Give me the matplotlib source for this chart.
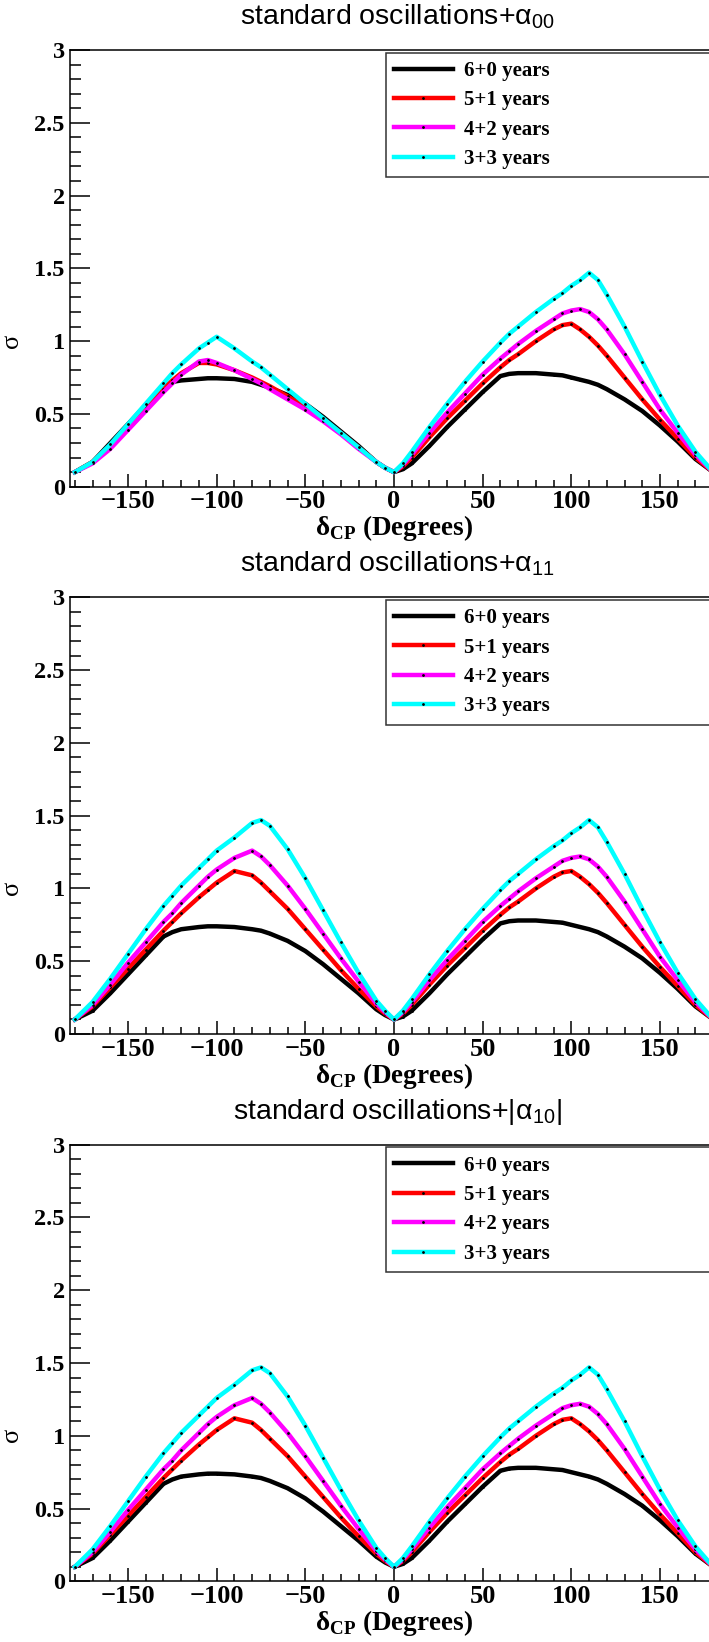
import numpy as np
import matplotlib.pyplot as plt
from matplotlib.ticker import MultipleLocator

plt.rcParams['mathtext.fontset'] = 'custom'
plt.rcParams['mathtext.rm'] = 'Liberation Sans'
plt.rcParams['mathtext.bf'] = 'Liberation Serif:bold'

# delta_CP grid (degrees)
delta = [-180, -170, -160, -150, -140, -130, -125, -120, -110, -105,
         -100, -90, -80, -75, -70, -60, -50, -40, -30, -20,
         -10, -5, 0, 5, 10, 20, 30, 40, 50, 60,
         65, 70, 80, 90, 95, 100, 105, 110, 115, 120,
         130, 140, 150, 160, 170, 180]

# positive delta half (0 .. 180), same in all three panels
black_R = [0.10, 0.12, 0.16, 0.28, 0.41, 0.53, 0.65, 0.76, 0.775, 0.78, 0.78, 0.77,
           0.765, 0.75, 0.735, 0.72, 0.70, 0.67, 0.60, 0.52, 0.42, 0.31, 0.19, 0.10]
red_R = [0.10, 0.14, 0.20, 0.34, 0.47, 0.59, 0.71, 0.82, 0.87, 0.91, 1.00, 1.08,
         1.11, 1.12, 1.08, 1.03, 0.97, 0.90, 0.75, 0.60, 0.46, 0.33, 0.20, 0.10]
magenta_R = [0.10, 0.15, 0.22, 0.37, 0.51, 0.64, 0.77, 0.88, 0.93, 0.98, 1.07, 1.15,
             1.19, 1.21, 1.22, 1.20, 1.15, 1.08, 0.91, 0.72, 0.53, 0.37, 0.22, 0.10]
cyan_R = [0.10, 0.16, 0.24, 0.41, 0.57, 0.72, 0.86, 0.99, 1.05, 1.10, 1.20, 1.29,
          1.33, 1.38, 1.42, 1.47, 1.42, 1.32, 1.10, 0.86, 0.63, 0.42, 0.24, 0.10]

# negative delta half (-180 .. -5), panel with alpha_00
black_L1 = [0.10, 0.17, 0.30, 0.43, 0.56, 0.68, 0.72, 0.73, 0.74, 0.745, 0.745,
            0.74, 0.72, 0.70, 0.68, 0.63, 0.57, 0.48, 0.38, 0.28, 0.17, 0.13]
red_L1 = [0.10, 0.17, 0.28, 0.42, 0.55, 0.67, 0.73, 0.78, 0.85, 0.85, 0.84,
          0.80, 0.75, 0.72, 0.69, 0.62, 0.55, 0.46, 0.37, 0.27, 0.17, 0.13]
magenta_L1 = [0.10, 0.16, 0.26, 0.39, 0.52, 0.65, 0.71, 0.77, 0.86, 0.87, 0.85,
              0.80, 0.74, 0.71, 0.67, 0.60, 0.53, 0.45, 0.36, 0.26, 0.17, 0.13]
cyan_L1 = [0.10, 0.17, 0.29, 0.43, 0.57, 0.71, 0.78, 0.84, 0.95, 0.99, 1.03,
           0.95, 0.86, 0.82, 0.77, 0.67, 0.57, 0.47, 0.37, 0.27, 0.17, 0.13]

# negative delta half, panels with alpha_11 and |alpha_10|
black_L2 = [0.10, 0.16, 0.28, 0.41, 0.54, 0.67, 0.70, 0.72, 0.735, 0.74, 0.74,
            0.735, 0.72, 0.71, 0.69, 0.64, 0.57, 0.48, 0.38, 0.28, 0.17, 0.13]
red_L2 = [0.10, 0.19, 0.32, 0.45, 0.58, 0.71, 0.77, 0.83, 0.94, 0.99, 1.04,
          1.12, 1.09, 1.04, 0.98, 0.86, 0.72, 0.58, 0.44, 0.31, 0.19, 0.14]
magenta_L2 = [0.10, 0.20, 0.34, 0.49, 0.63, 0.77, 0.83, 0.90, 1.02, 1.08, 1.13,
              1.21, 1.26, 1.22, 1.16, 1.02, 0.86, 0.69, 0.52, 0.36, 0.21, 0.15]
cyan_L2 = [0.10, 0.22, 0.38, 0.55, 0.72, 0.88, 0.95, 1.02, 1.14, 1.20, 1.26,
           1.35, 1.45, 1.47, 1.43, 1.27, 1.07, 0.85, 0.63, 0.42, 0.23, 0.16]

labels = ['6+0 years', '5+1 years', '4+2 years', '3+3 years']
colors = ['black', '#ff0000', '#ff00ff', '#00ffff']
titles = ['standard oscillations+α$_{00}$',
          'standard oscillations+α$_{11}$',
          'standard oscillations+|α$_{10}$|']

panel1 = [black_L1 + black_R, red_L1 + red_R, magenta_L1 + magenta_R, cyan_L1 + cyan_R]
panel2 = [black_L2 + black_R, red_L2 + red_R, magenta_L2 + magenta_R, cyan_L2 + cyan_R]
panels = [panel1, panel2, panel2]

W, H = 709, 1642
fig = plt.figure(figsize=(W / 100, H / 100), dpi=100)
ph = H / 3.0

x_left, x_w = 69.5, 649.0
ax_top, ax_bot = 50.0, 486.7

for k in range(3):
    off = k * ph
    ax = fig.add_axes([x_left / W, 1 - (ax_bot + off) / H, x_w / W, (ax_bot - ax_top) / H])
    for ys, c, lab in zip(panels[k], colors, labels):
        ax.plot(delta, ys, color=c, lw=3.2, label=lab, marker='.', ms=2,
                mec='black', mfc='black')
    ax.set_xlim(-183, 183)
    ax.set_ylim(0, 3)
    ax.xaxis.set_major_locator(MultipleLocator(50))
    ax.xaxis.set_minor_locator(MultipleLocator(10))
    ax.yaxis.set_major_locator(MultipleLocator(0.5))
    ax.yaxis.set_minor_locator(MultipleLocator(0.1))
    ax.tick_params(which='both', direction='in', top=False, right=False, width=1.1)
    ax.tick_params(axis='y', which='major', length=14.4, pad=3.5)
    ax.tick_params(axis='y', which='minor', length=7.9)
    ax.tick_params(axis='x', which='major', length=9.6, pad=2.5)
    ax.tick_params(axis='x', which='minor', length=4.8)
    for t in ax.get_xticklabels():
        t.set_fontfamily('Liberation Serif')
        t.set_fontweight('bold')
        t.set_fontsize(19)
    for t in ax.get_yticklabels():
        t.set_fontfamily('Liberation Serif')
        t.set_fontweight('bold')
        t.set_fontsize(17.5)
    for s in ax.spines.values():
        s.set_linewidth(1.1)
    ax.yaxis.set_major_formatter(plt.FuncFormatter(lambda v, p: '%g' % v))

    ax.set_xlabel('δ$_{\\mathbf{CP}}$ (Degrees)', family='Liberation Serif',
                  weight='bold', size=19.5, labelpad=0)
    ax.set_ylabel('σ', family='Liberation Serif', size=19)
    ax.yaxis.set_label_coords(-0.072, 0.335)

    leg = ax.legend(loc='upper left', bbox_to_anchor=(0.4875, 0.5, 0.515, 0.4938),
                    mode='expand', borderaxespad=0, fancybox=False, framealpha=1,
                    edgecolor='#333333', handlelength=2.8, handletextpad=0.55,
                    borderpad=0.4, labelspacing=0.45, numpoints=1,
                    prop=dict(family='Liberation Serif', weight='bold', size=15))
    leg.get_frame().set_linewidth(1.1)

    fig.text(397 / W, 1 - (off + 24) / H, titles[k], ha='center', va='baseline',
             family='Liberation Sans', size=20.5)

fig.savefig('out.png', dpi=100)
